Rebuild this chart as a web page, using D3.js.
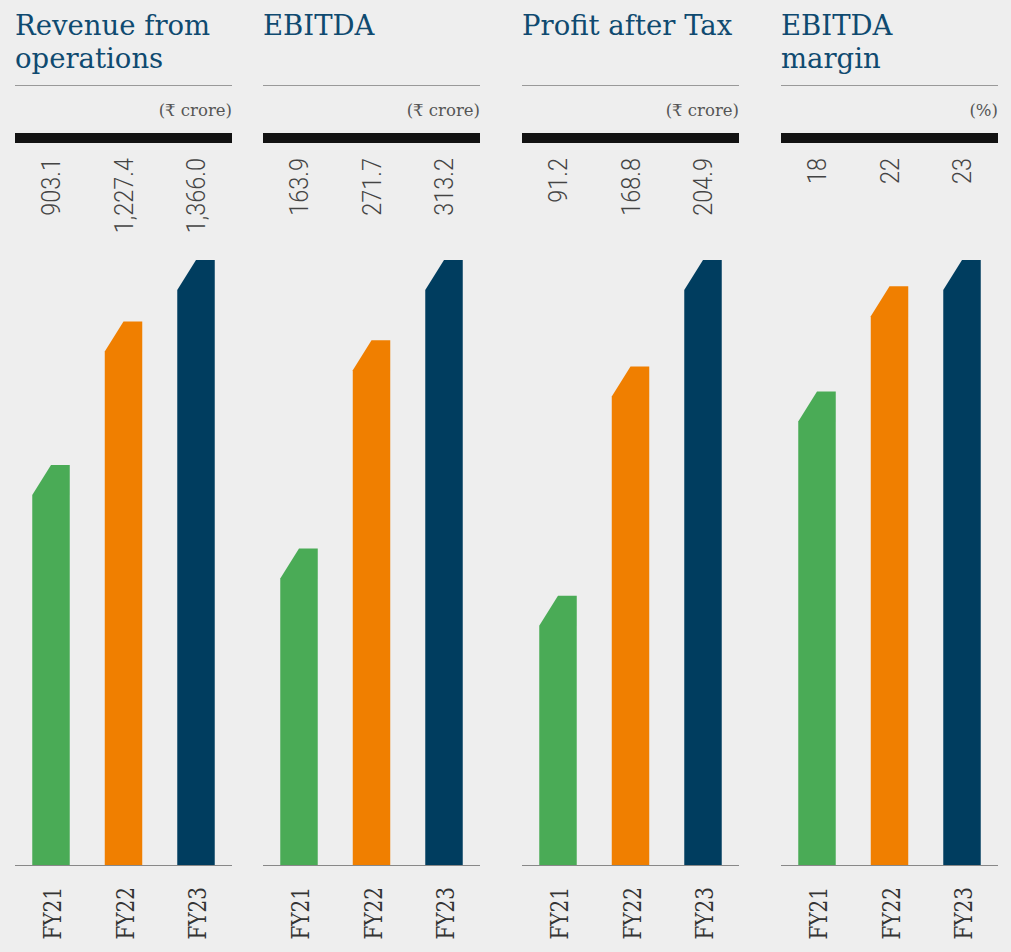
<!DOCTYPE html>
<html>
<head>
<meta charset="utf-8">
<script src="https://cdn.jsdelivr.net/npm/d3@7"></script>
<style>
  body { margin: 0; background: #eeeeee; }
  svg { display: block; }
  .title { font-family: "DejaVu Serif", serif; font-size: 27.5px; fill: #0f4a70; }
  .unit { font-family: "DejaVu Serif", "Noto Sans", serif; font-size: 16.5px; fill: #555; }
  .value { font-family: Roboto, "Noto Sans", sans-serif; font-weight: 300; font-size: 25px; fill: #444; }
  .year { font-family: "DejaVu Serif", serif; font-size: 25px; fill: #333; }
</style>
</head>
<body>
<svg id="chart" width="1011" height="952"></svg>
<script>
const years = ["FY21", "FY22", "FY23"];
const revenue = [903.1, 1227.4, 1366.0];
const ebitda = [163.9, 271.7, 313.2];
const profit = [91.2, 168.8, 204.9];
const ebitdaMargin = [18, 22, 23];

const titles = [["Revenue from", "operations"], ["EBITDA"], ["Profit after Tax"], ["EBITDA", "margin"]];
const units = ["(\u20B9 crore)", "(\u20B9 crore)", "(\u20B9 crore)", "(%)"];
const seriesList = [revenue, ebitda, profit, ebitdaMargin];
const formats = [d3.format(",.1f"), d3.format(",.1f"), d3.format(",.1f"), d3.format("d")];

const colors = ["#4aab56", "#f07f00", "#003d5f"];
const panelX = [15, 263, 522, 781];
const panelW = 217;
const baseY = 865, topY = 260;

const svg = d3.select("#chart");

// one group per panel
seriesList.forEach((values, p) => {
    const g = svg.append("g").attr("transform", `translate(${panelX[p]},0)`);

    const x = d3.scaleBand()
        .domain(years)
        .range([0, panelW])
        .paddingInner(0.483)
        .paddingOuter(0.238);
    const y = d3.scaleLinear()
        .domain([0, d3.max(values)])
        .range([baseY, topY]);

    g.append("text")
        .attr("class", "title")
        .selectAll("tspan")
        .data(titles[p])
        .join("tspan")
        .attr("x", 0)
        .attr("y", (d, i) => 35 + i * 33)
        .text(d => d);

    g.append("line")
        .attr("x1", 0).attr("x2", panelW)
        .attr("y1", 85.5).attr("y2", 85.5)
        .attr("stroke", "#999").attr("stroke-width", 1);

    g.append("text")
        .attr("class", "unit")
        .attr("x", panelW).attr("y", 116)
        .attr("text-anchor", "end")
        .text(units[p]);

    g.append("rect")
        .attr("x", 0).attr("y", 133)
        .attr("width", panelW).attr("height", 10)
        .attr("fill", "#121212");

    const data = years.map((yr, i) => ({ yr, v: values[i], c: colors[i] }));

    // bars with a cut top-left corner
    g.selectAll("path.bar")
        .data(data)
        .join("path")
        .attr("class", "bar")
        .attr("fill", d => d.c)
        .attr("d", d => {
            const x0 = x(d.yr), x1 = x0 + x.bandwidth();
            const yt = y(d.v);
            const cut = x.bandwidth() * 0.5;
            return `M${x0},${baseY}V${yt + 30}L${x0 + cut},${yt}H${x1}V${baseY}Z`;
        });

    g.append("line")
        .attr("x1", 0).attr("x2", panelW)
        .attr("y1", baseY + 0.5).attr("y2", baseY + 0.5)
        .attr("stroke", "#888").attr("stroke-width", 1.2);

    g.selectAll("text.value")
        .data(data)
        .join("text")
        .attr("class", "value")
        .attr("text-anchor", "end")
        .attr("transform", d => `translate(${x(d.yr) + x.bandwidth() / 2 + 9},158) rotate(-90) scale(0.94,1)`)
        .text(d => formats[p](d.v));

    // condensed look for the year labels
    g.selectAll("text.year")
        .data(data)
        .join("text")
        .attr("class", "year")
        .attr("text-anchor", "end")
        .attr("transform", d => `translate(${x(d.yr) + x.bandwidth() / 2 + 10},887) rotate(-90) scale(0.8,1)`)
        .text(d => d.yr);
});
</script>
</body>
</html>
